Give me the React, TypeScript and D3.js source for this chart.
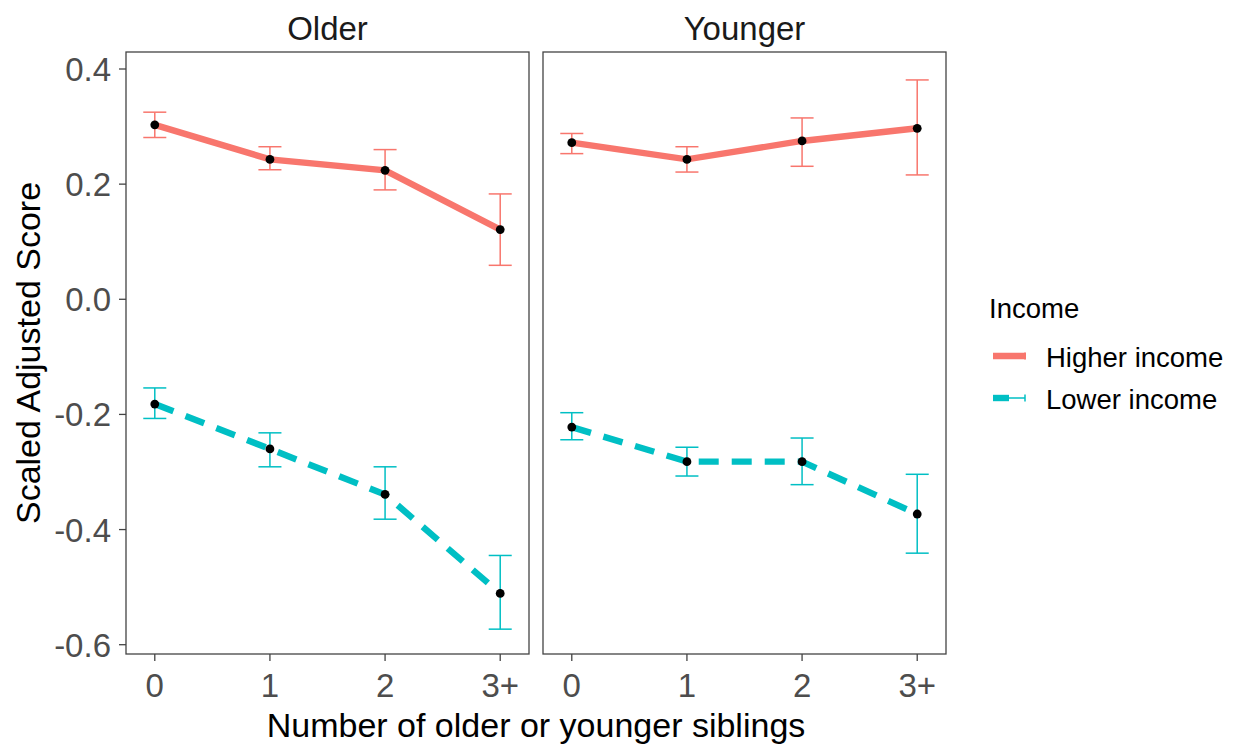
import React from "react";
import * as d3 from "d3";

const categories = ["0", "1", "2", "3+"];
const panels = ["Older", "Younger"];
const groups = ["Higher income", "Lower income"];
const colors = ["#F8766D", "#00BFC4"];
const yTicks = [0.4, 0.2, 0.0, -0.2, -0.4, -0.6];

// Older panel
const olderHigh = [0.303, 0.243, 0.224, 0.121];
const olderHighLo = [0.281, 0.225, 0.19, 0.059];
const olderHighHi = [0.325, 0.265, 0.26, 0.183];
const olderLow = [-0.182, -0.26, -0.339, -0.511];
const olderLowLo = [-0.207, -0.291, -0.382, -0.573];
const olderLowHi = [-0.154, -0.232, -0.291, -0.445];
// Younger panel
const youngerHigh = [0.272, 0.243, 0.275, 0.297];
const youngerHighLo = [0.253, 0.221, 0.231, 0.216];
const youngerHighHi = [0.288, 0.265, 0.315, 0.381];
const youngerLow = [-0.222, -0.282, -0.282, -0.373];
const youngerLowLo = [-0.244, -0.307, -0.322, -0.441];
const youngerLowHi = [-0.197, -0.257, -0.241, -0.304];

const data = [
  [
    { v: olderHigh, lo: olderHighLo, hi: olderHighHi },
    { v: olderLow, lo: olderLowLo, hi: olderLowHi },
  ],
  [
    { v: youngerHigh, lo: youngerHighLo, hi: youngerHighHi },
    { v: youngerLow, lo: youngerLowLo, hi: youngerLowHi },
  ],
];

const W = 1239;
const H = 747;
const panelX = [126, 543];
const panelW = 403;
const top = 52;
const bottom = 654;
const font = "'Liberation Sans', Arial, sans-serif";
const axisSize = 33;
const titleSize = 34;
const legendSize = 27.5;

export default function App() {
  const y = d3.scaleLinear().domain([-0.6, 0.4]).range([644.7, 69]);
  const pad = 0.25;
  const line = d3.line<[number, number]>().x((d) => d[0]).y((d) => d[1]);

  return (
    <svg width={W} height={H} style={{ position: "absolute", left: 0, top: 0, background: "#fff" }}>
      <rect x={0} y={0} width={W} height={H} fill="#fff" />
      {panels.map((p, pi) => {
        const x = d3
          .scaleLinear()
          .domain([-pad, categories.length - 1 + pad])
          .range([panelX[pi], panelX[pi] + panelW]);
        return (
          <g key={p}>
            <text
              x={panelX[pi] + panelW / 2}
              y={39.5}
              textAnchor="middle"
              fontFamily={font}
              fontSize={axisSize}
              fill="#1a1a1a"
            >
              {p}
            </text>
            {data[pi].map((s, gi) => (
              <g key={gi}>
                {categories.map((c, ci) => (
                  <g key={c} stroke={colors[gi]} strokeWidth={1.5} fill="none">
                    <line x1={x(ci)} x2={x(ci)} y1={y(s.lo[ci])} y2={y(s.hi[ci])} />
                    <line x1={x(ci - 0.1)} x2={x(ci + 0.1)} y1={y(s.lo[ci])} y2={y(s.lo[ci])} />
                    <line x1={x(ci - 0.1)} x2={x(ci + 0.1)} y1={y(s.hi[ci])} y2={y(s.hi[ci])} />
                  </g>
                ))}
                <path
                  d={line(s.v.map((v, ci) => [x(ci), y(v)] as [number, number])) || ""}
                  fill="none"
                  stroke={colors[gi]}
                  strokeWidth={6.4}
                  strokeDasharray={gi === 1 ? "20 13" : undefined}
                />
                {s.v.map((v, ci) => (
                  <circle key={ci} cx={x(ci)} cy={y(v)} r={4.4} fill="#000" />
                ))}
              </g>
            ))}
            <rect
              x={panelX[pi]}
              y={top}
              width={panelW}
              height={bottom - top}
              fill="none"
              stroke="#444"
              strokeWidth={1.3}
            />
            {categories.map((c, ci) => (
              <g key={c}>
                <line x1={x(ci)} x2={x(ci)} y1={bottom} y2={bottom + 7} stroke="#444" strokeWidth={1.3} />
                <text
                  x={x(ci)}
                  y={697}
                  textAnchor="middle"
                  fontFamily={font}
                  fontSize={axisSize}
                  fill="#4d4d4d"
                >
                  {c}
                </text>
              </g>
            ))}
          </g>
        );
      })}
      {yTicks.map((t) => (
        <g key={t}>
          <line x1={119} x2={126} y1={y(t)} y2={y(t)} stroke="#444" strokeWidth={1.3} />
          <text
            x={111}
            y={y(t) + 12}
            textAnchor="end"
            fontFamily={font}
            fontSize={axisSize}
            fill="#4d4d4d"
          >
            {d3.format(".1f")(t).replace("−", "-")}
          </text>
        </g>
      ))}
      <text
        transform={`translate(40, ${(top + bottom) / 2}) rotate(-90)`}
        textAnchor="middle"
        fontFamily={font}
        fontSize={titleSize}
        fill="#000"
      >
        Scaled Adjusted Score
      </text>
      <text
        x={(panelX[0] + panelX[1] + panelW) / 2}
        y={737}
        textAnchor="middle"
        fontFamily={font}
        fontSize={titleSize}
        fill="#000"
      >
        Number of older or younger siblings
      </text>
      <text x={989} y={318} fontFamily={font} fontSize={legendSize} fill="#000">
        Income
      </text>
      {groups.map((g, gi) => {
        const ly = 356 + gi * 42;
        return (
          <g key={g}>
            <line x1={993} x2={1025} y1={ly} y2={ly} stroke={colors[gi]} strokeWidth={1.5} />
            <line x1={1025} x2={1025} y1={ly - 3.5} y2={ly + 3.5} stroke={colors[gi]} strokeWidth={1.5} />
            <line
              x1={993}
              x2={1026}
              y1={ly}
              y2={ly}
              stroke={colors[gi]}
              strokeWidth={6.4}
              strokeDasharray={gi === 1 ? "16 100" : undefined}
            />
            <text x={1046} y={ly + 11} fontFamily={font} fontSize={legendSize} fill="#000">
              {g}
            </text>
          </g>
        );
      })}
    </svg>
  );
}
